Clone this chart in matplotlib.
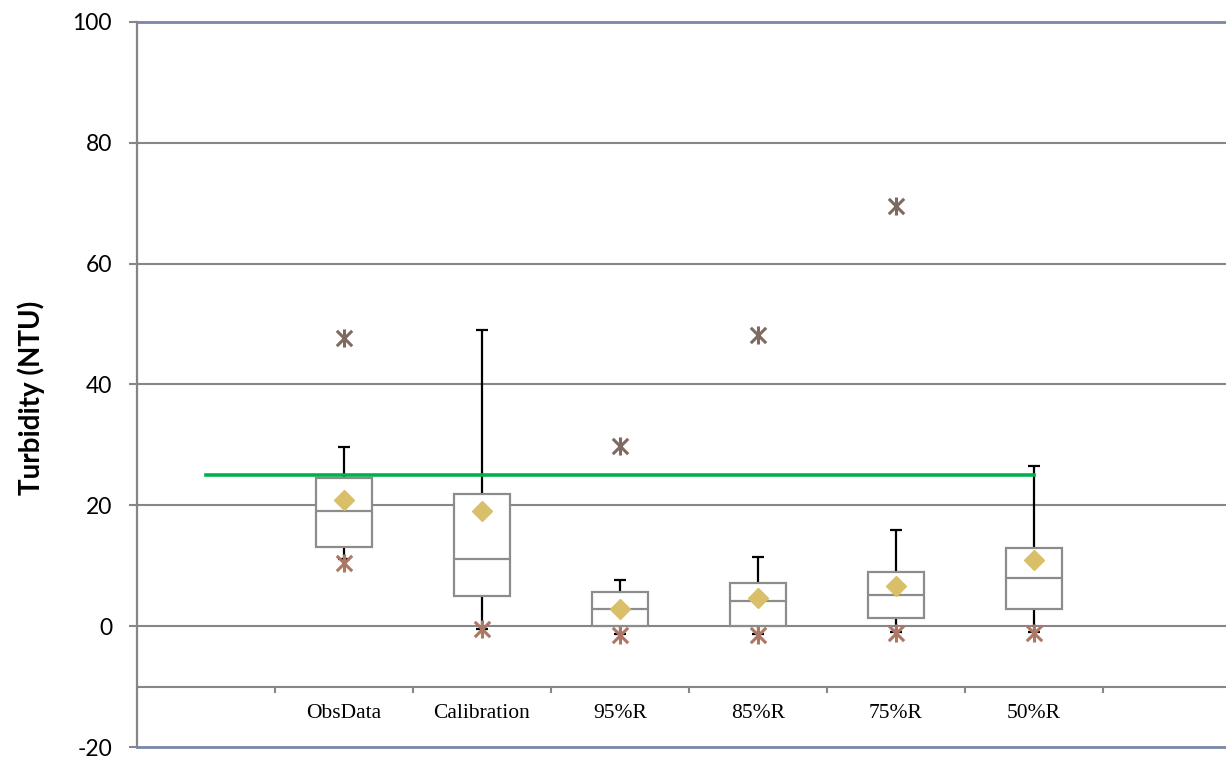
import matplotlib
matplotlib.use('Agg')
import matplotlib.pyplot as plt
from matplotlib.path import Path
import numpy as np

plt.rcParams['font.family'] = ['Lato', 'DejaVu Sans']
plt.rcParams['axes.unicode_minus'] = False

# categories (first and last slots are empty in the original chart)
categories = ['', 'ObsData', 'Calibration', '95%R', '85%R', '75%R', '50%R', '']
box_names = ['ObsData', 'Calibration', '95%R', '85%R', '75%R', '50%R']

q1 = [13.1, 5.0, 0.0, 0.0, 1.3, 2.8]
median = [19.0, 11.2, 2.8, 4.1, 5.2, 8.0]
q3 = [24.5, 21.9, 5.6, 7.2, 9.0, 13.0]
whisker_hi = [29.7, 49.1, 7.7, 11.5, 15.9, 26.5]
whisker_lo = [11.2, -0.4, -1.3, -1.3, -1.0, -0.9]
mean = [20.9, 19.0, 2.9, 4.7, 6.6, 10.9]
min_val = [10.5, -0.5, -1.5, -1.5, -1.2, -1.1]
max_names = ['ObsData', '95%R', '85%R', '75%R']
max_val = [47.7, 29.9, 48.2, 69.6]

# guideline series
line_names = ['', 'ObsData', 'Calibration', '95%R', '85%R', '75%R', '50%R']
line_val = [25, 25, 25, 25, 25, 25, 25]

yticks = [-20, 0, 20, 40, 60, 80, 100]

W, H = 1226, 759
fig = plt.figure(figsize=(W / 100, H / 100), dpi=100)
# axes runs past the right edge like the original screenshot
ax = fig.add_axes([137 / W, 1 - 747 / H, 8 * 138 / W, (747 - 22) / H])

pos = {c: i + 0.5 for i, c in enumerate(categories) if c != ''}
pos_first = 0.5
xb = np.array([pos[c] for c in box_names])
xm = np.array([pos[c] for c in max_names])
xl = np.array([pos_first] + [pos[c] for c in line_names[1:]])

ax.set_xlim(0, 8)
ax.set_ylim(-20, 100)

grid_c = '#868686'
for y in [0, 20, 40, 60, 80]:
    ax.axhline(y, color=grid_c, lw=1.5, zorder=1)
# category axis sits at -10
ax.axhline(-10, color=grid_c, lw=1.5, zorder=1)
ax.vlines(np.arange(1, 9), -10, -11.1, color=grid_c, lw=1.5, zorder=1, clip_on=False)
for i, c in enumerate(categories):
    if c:
        ax.text(i + 0.5, -14.4, c, ha='center', va='center', fontsize=15.5,
                family='Liberation Serif', color='black')

bw = 0.4
cw = 0.045
# whiskers
ax.vlines(xb, q3, whisker_hi, color='black', lw=1.6, zorder=2)
ax.hlines(whisker_hi, xb - cw, xb + cw, color='black', lw=1.6, zorder=2)
ax.vlines(xb, whisker_lo, q1, color='black', lw=1.6, zorder=2)
ax.hlines(whisker_lo, xb - cw, xb + cw, color='black', lw=1.6, zorder=2)

# boxes
ax.bar(xb, np.array(q3) - np.array(q1), bottom=q1, width=bw, color='white',
       edgecolor='#8c8c8c', linewidth=1.6, zorder=3)
ax.hlines(median, xb - bw / 2, xb + bw / 2, color='#8c8c8c', lw=1.6, zorder=4)

# green reference line
ax.plot(xl, line_val, color='#00b050', lw=2.6, zorder=5)

# star marker: X with a vertical bar
star = Path([(0, -1), (0, 1), (-0.85, -0.85), (0.85, 0.85), (-0.85, 0.85), (0.85, -0.85)],
            [Path.MOVETO, Path.LINETO, Path.MOVETO, Path.LINETO, Path.MOVETO, Path.LINETO])

ax.plot(xb, mean, ls='none', marker='D', ms=10, color='#d9bf6a', mec='#d9bf6a', zorder=6)
ax.plot(xb, min_val, ls='none', marker=star, ms=13, mew=2.2, color='#ad7764', zorder=6)
ax.plot(xm, max_val, ls='none', marker=star, ms=13, mew=2.2, color='#7f6a62', zorder=6)

for s in ['top', 'bottom']:
    ax.spines[s].set_color('#7a86a8')
    ax.spines[s].set_linewidth(2)
ax.spines['left'].set_color(grid_c)
ax.spines['left'].set_linewidth(1.6)
ax.spines['right'].set_visible(False)

ax.set_xticks([])
ax.set_yticks(yticks)
ax.tick_params(axis='y', length=6, width=1.5, color=grid_c, pad=12, labelsize=16.5)

fig.text(31 / W, 1 - 398 / H, 'Turbidity (NTU)', rotation=90, ha='center', va='center',
         fontsize=20, fontweight='bold')

fig.savefig('out.png', dpi=100)
